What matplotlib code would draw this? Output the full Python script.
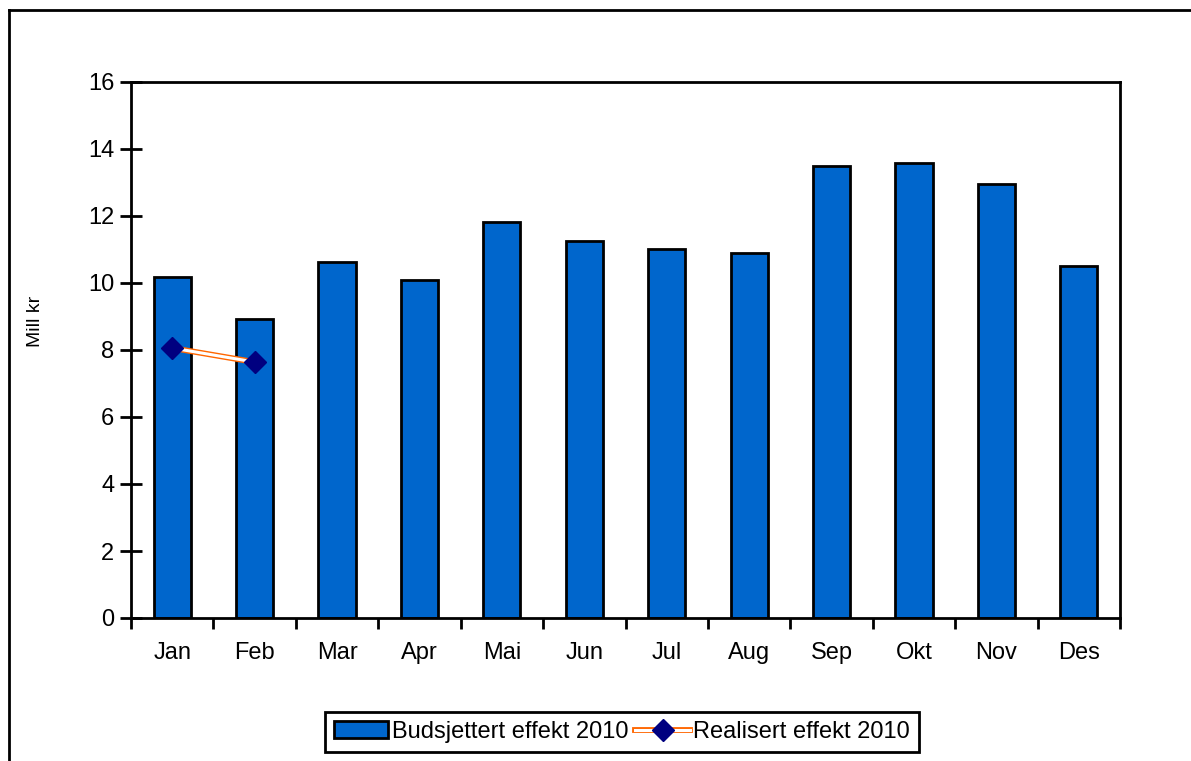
import matplotlib
matplotlib.use("Agg")
import matplotlib.pyplot as plt
import matplotlib.patheffects as pe
from matplotlib.legend_handler import HandlerTuple
from matplotlib.lines import Line2D
import numpy as np

plt.rcParams['font.family'] = ['Liberation Sans', 'DejaVu Sans']

months = ["Jan", "Feb", "Mar", "Apr", "Mai", "Jun", "Jul", "Aug", "Sep", "Okt", "Nov", "Des"]
budget = [10.18, 8.93, 10.63, 10.09, 11.82, 11.25, 11.01, 10.90, 13.49, 13.58, 12.96, 10.51]
realized = [8.06, 7.64]

W, H = 1191, 761
fig = plt.figure(figsize=(W / 100, H / 100), dpi=100)

# outer chart-area frame (left and top edges visible, rest is cropped)
fig.add_artist(Line2D([9 / W, 9 / W], [0, 1 - 10 / H], color='black', lw=2, transform=fig.transFigure))
fig.add_artist(Line2D([9 / W, 1], [1 - 10 / H, 1 - 10 / H], color='black', lw=2, transform=fig.transFigure))

ax = fig.add_axes([131 / W, (H - 618) / H, 989 / W, 536 / H])

x = np.arange(len(months))
bars = ax.bar(x, budget, width=0.45, color='#0066CC', edgecolor='black', linewidth=2,
              label='Budsjettert effekt 2010', zorder=2)

# double orange line: white core with orange outline
line, = ax.plot(x[:len(realized)], realized, color='white', lw=2.2, zorder=3,
                path_effects=[pe.Stroke(linewidth=4.2, foreground='#FF6600'), pe.Normal()])
pts, = ax.plot(x[:len(realized)], realized, ls='none', marker='D', ms=11.5,
               color='#000080', zorder=4)

ax.set_xlim(-0.5, len(months) - 0.5)
ax.set_ylim(0, 16)
ax.set_yticks(range(0, 17, 2))
ax.set_xticks(x)
ax.set_xticklabels(months)
ax.set_xticks(np.arange(-0.5, len(months), 1), minor=True)
ax.tick_params(axis='x', which='major', length=0, pad=17, labelsize=17)
ax.tick_params(axis='x', which='minor', direction='out', length=8, width=2)
ax.tick_params(axis='y', direction='inout', length=16, width=2, pad=4, labelsize=17)

for s in ax.spines.values():
    s.set_linewidth(2)

fig.text(35 / W, 1 - 321 / H, "Mill kr", rotation=90, ha='center', va='center', fontsize=14)

leg = fig.legend([bars, (line, pts)], ['Budsjettert effekt 2010', 'Realisert effekt 2010'],
                 handler_map={tuple: HandlerTuple(ndivide=1)},
                 loc='center', bbox_to_anchor=(622 / W, 1 - 732 / H), ncol=2,
                 fontsize=17, frameon=True, fancybox=False, edgecolor='black', framealpha=1,
                 handlelength=2.3, handletextpad=0.15, columnspacing=0.3,
                 borderpad=0.4, borderaxespad=0)
leg.get_frame().set_linewidth(2)

fig.savefig("out.png", dpi=100)
